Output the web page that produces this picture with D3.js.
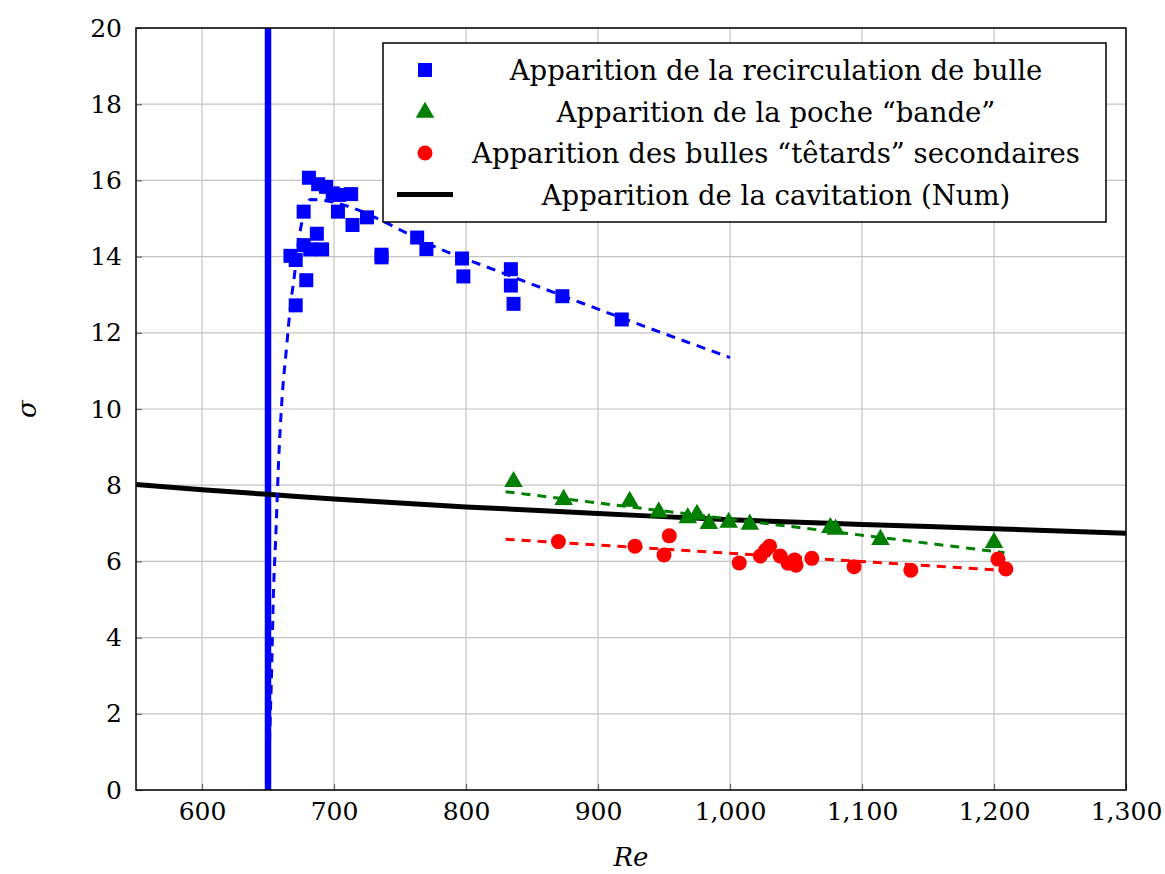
<!DOCTYPE html>
<html>
<head>
<meta charset="utf-8">
<script src="https://cdn.jsdelivr.net/npm/d3@7"></script>
<style>
  body { margin: 0; background: #fff; }
  svg text { font-family: "DejaVu Serif", "Liberation Serif", "Times New Roman", "Noto Serif", serif; fill: #000; }
</style>
</head>
<body>
<svg id="chart" width="1165" height="874"></svg>
<script>
// recirculation bubble onset (blue squares)
const blueRe = [681, 688, 694, 699, 704, 713, 703, 677, 725, 714, 687, 677, 691, 682, 667, 671, 679, 671, 763, 770, 736, 736, 797, 798, 834, 834, 836, 873, 918];
const blueSigma = [16.07, 15.9, 15.83, 15.66, 15.62, 15.64, 15.18, 15.18, 15.03, 14.83, 14.6, 14.3, 14.19, 14.19, 14.02, 13.91, 13.38, 12.72, 14.5, 14.2, 14.05, 13.98, 13.95, 13.48, 13.67, 13.24, 12.76, 12.96, 12.35];
// blue fit curve
const blueFitRe = [650, 651.5, 652.8, 654, 656, 658, 660.5, 664, 667, 670, 674, 678, 682, 786, 939, 1000];
const blueFitSigma = [0, 1.65, 3.2, 5.0, 6.75, 8.6, 10.2, 11.6, 12.7, 13.5, 14.6, 15.2, 15.5, 14.12, 12.12, 11.35];

// "bande" pocket (green triangles)
const greenRe = [836, 874, 924, 946, 968, 975, 984, 999, 1015, 1076, 1080, 1114, 1200];
const greenSigma = [8.12, 7.65, 7.6, 7.32, 7.17, 7.26, 7.02, 7.05, 7.0, 6.91, 6.87, 6.6, 6.52];
const greenFitRe = [830, 1208];
const greenFitSigma = [7.83, 6.23];

// secondary "tadpole" bubbles (red circles)
const redRe = [870, 928, 954, 950, 1007, 1023, 1027, 1030, 1038, 1044, 1050, 1049, 1062, 1094, 1137, 1203, 1209];
const redSigma = [6.52, 6.4, 6.67, 6.17, 5.96, 6.14, 6.3, 6.4, 6.14, 5.95, 5.9, 6.04, 6.08, 5.86, 5.77, 6.06, 5.8];
const redFitRe = [830, 1200];
const redFitSigma = [6.58, 5.78];

// numerical cavitation onset (black)
const numRe = [550, 600, 650, 700, 800, 900, 1000, 1100, 1200, 1300];
const numSigma = [8.02, 7.88, 7.76, 7.64, 7.43, 7.26, 7.09, 6.97, 6.86, 6.74];

// vertical limit
const limitRe = 650;

const xTicks = [600, 700, 800, 900, 1000, 1100, 1200, 1300];
const yTicks = [0, 2, 4, 6, 8, 10, 12, 14, 16, 18, 20];

const legendLabels = [
  "Apparition de la recirculation de bulle",
  "Apparition de la poche \u201cbande\u201d",
  "Apparition des bulles \u201ct\u00eatards\u201d secondaires",
  "Apparition de la cavitation (Num)",
];

const FONT = "'DejaVu Serif', 'Liberation Serif', 'Times New Roman', 'Noto Serif', serif";
const margin = { top: 28, right: 39, bottom: 84, left: 136 };
const W = 1165, H = 874;
const width = W - margin.left - margin.right;
const height = H - margin.top - margin.bottom;

const svg = d3.select("#chart");
const g = svg.append("g").attr("transform", "translate(" + margin.left + "," + margin.top + ")");

const x = d3.scaleLinear().domain([550, 1300]).range([0, width]);
const y = d3.scaleLinear().domain([0, 20]).range([height, 0]);

const zip = (a, b) => a.map((v, i) => [v, b[i]]);

// grid
g.append("g")
  .selectAll("line")
  .data(xTicks)
  .enter()
  .append("line")
  .attr("x1", (d) => x(d)).attr("x2", (d) => x(d))
  .attr("y1", 0).attr("y2", height)
  .attr("stroke", "#c4c4c4").attr("stroke-width", 1.2);
g.append("g")
  .selectAll("line")
  .data(yTicks)
  .enter()
  .append("line")
  .attr("x1", 0).attr("x2", width)
  .attr("y1", (d) => y(d)).attr("y2", (d) => y(d))
  .attr("stroke", "#c4c4c4").attr("stroke-width", 1.2);

// axes (inner ticks)
const xAxis = d3.axisBottom(x).tickValues(xTicks).tickFormat(d3.format(",")).tickSizeInner(-6).tickSizeOuter(0).tickPadding(12);
const yAxis = d3.axisLeft(y).tickValues(yTicks).tickSizeInner(-6).tickSizeOuter(0).tickPadding(14);

const gx = g.append("g").attr("transform", "translate(0," + height + ")").call(xAxis);
const gy = g.append("g").call(yAxis);
[gx, gy].forEach((a) => {
  a.attr("font-family", FONT);
  a.select(".domain").remove();
  a.selectAll(".tick line").attr("stroke", "#666").attr("stroke-width", 1.2);
  a.selectAll("text").style("font-family", FONT).style("font-size", "25px").attr("fill", "#000");
});
gx.selectAll("text").attr("dy", "0.71em");

// clip
svg.append("clipPath").attr("id", "clip")
  .append("rect").attr("x", 0).attr("y", 0).attr("width", width).attr("height", height);
const plot = g.append("g").attr("clip-path", "url(#clip)");

const line = d3.line().x((d) => x(d[0])).y((d) => y(d[1]));

// vertical limit
plot.append("line")
  .attr("x1", x(limitRe)).attr("x2", x(limitRe))
  .attr("y1", y(0)).attr("y2", y(20))
  .attr("stroke", "#0000ff").attr("stroke-width", 6.5);

// numerical curve
plot.append("path")
  .datum(zip(numRe, numSigma))
  .attr("d", line.curve(d3.curveMonotoneX))
  .attr("fill", "none").attr("stroke", "#000").attr("stroke-width", 5);

// fits
plot.append("path")
  .datum(zip(blueFitRe, blueFitSigma))
  .attr("d", line.curve(d3.curveMonotoneX))
  .attr("fill", "none").attr("stroke", "#0000ff").attr("stroke-width", 3)
  .attr("stroke-dasharray", "9,7");
plot.append("path")
  .datum(zip(greenFitRe, greenFitSigma))
  .attr("d", line.curve(d3.curveLinear))
  .attr("fill", "none").attr("stroke", "#008000").attr("stroke-width", 3)
  .attr("stroke-dasharray", "9,7");
plot.append("path")
  .datum(zip(redFitRe, redFitSigma))
  .attr("d", line.curve(d3.curveLinear))
  .attr("fill", "none").attr("stroke", "#ff0000").attr("stroke-width", 3)
  .attr("stroke-dasharray", "9,7");

// markers
const sq = 14;
plot.append("g")
  .selectAll("rect")
  .data(zip(blueRe, blueSigma))
  .enter()
  .append("rect")
  .attr("x", (d) => x(d[0]) - sq / 2)
  .attr("y", (d) => y(d[1]) - sq / 2)
  .attr("width", sq).attr("height", sq)
  .attr("fill", "#0000ff");

const tri = d3.symbol().type(d3.symbolTriangle).size(150);
plot.append("g")
  .selectAll("path")
  .data(zip(greenRe, greenSigma))
  .enter()
  .append("path")
  .attr("d", tri)
  .attr("transform", (d) => "translate(" + x(d[0]) + "," + (y(d[1]) + 1) + ")")
  .attr("fill", "#008000");

plot.append("g")
  .selectAll("circle")
  .data(zip(redRe, redSigma))
  .enter()
  .append("circle")
  .attr("cx", (d) => x(d[0]))
  .attr("cy", (d) => y(d[1]))
  .attr("r", 7.5)
  .attr("fill", "#ff0000");

// frame
g.append("rect")
  .attr("width", width).attr("height", height)
  .attr("fill", "none").attr("stroke", "#000").attr("stroke-width", 1.5);

// axis labels
svg.append("text")
  .attr("x", margin.left + width / 2)
  .attr("y", 866)
  .attr("text-anchor", "middle")
  .style("font-family", FONT)
  .style("font-size", "26px").style("font-style", "italic")
  .text("Re");
svg.append("text")
  .attr("transform", "translate(36," + (margin.top + height / 2) + ") rotate(-90)")
  .attr("text-anchor", "middle")
  .style("font-family", FONT)
  .style("font-size", "26px").style("font-style", "italic")
  .text("\u03c3");

// legend
const lg = svg.append("g").attr("transform", "translate(383,43)");
lg.append("rect")
  .attr("width", 723).attr("height", 179)
  .attr("fill", "#fff").attr("stroke", "#000").attr("stroke-width", 1.5);
const rowY = (i) => 27 + i * 41.5;
const mx = 42;
lg.append("rect").attr("x", mx - 7).attr("y", rowY(0) - 7).attr("width", 14).attr("height", 14).attr("fill", "#0000ff");
lg.append("path").attr("d", tri).attr("transform", "translate(" + mx + "," + (rowY(1) + 1) + ")").attr("fill", "#008000");
lg.append("circle").attr("cx", mx).attr("cy", rowY(2)).attr("r", 7.5).attr("fill", "#ff0000");
lg.append("line").attr("x1", 14).attr("x2", 70).attr("y1", rowY(3)).attr("y2", rowY(3))
  .attr("stroke", "#000").attr("stroke-width", 5);
lg.selectAll("text.lab")
  .data(legendLabels)
  .enter()
  .append("text")
  .attr("class", "lab")
  .attr("x", 393)
  .attr("y", (d, i) => rowY(i) + 10)
  .attr("text-anchor", "middle")
  .style("font-family", FONT)
  .style("font-size", "27.5px")
  .text((d) => d);
</script>
</body>
</html>
